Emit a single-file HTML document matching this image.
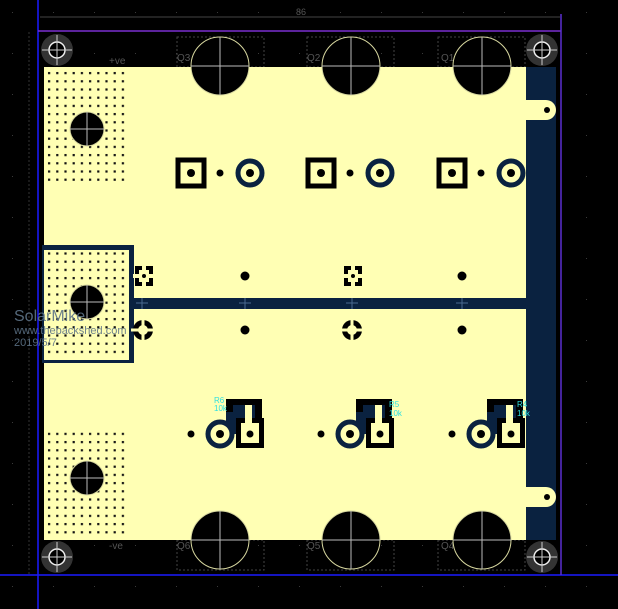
<!DOCTYPE html>
<html><head><meta charset="utf-8"><style>
html,body{margin:0;padding:0;background:#000;}
svg{display:block}
</style></head><body>
<svg width="618" height="609" viewBox="0 0 618 609" xmlns="http://www.w3.org/2000/svg" font-family="Liberation Sans, sans-serif">
<defs>
<pattern id="grid" x="0" y="0" width="41" height="41" patternUnits="userSpaceOnUse">
<rect x="12" y="12" width="1" height="1" fill="#3a3a3a"/>
</pattern>
<pattern id="dots" x="47" y="71" width="8.2" height="8.2" patternUnits="userSpaceOnUse">
<rect x="1" y="1" width="2.2" height="2.2" fill="#111"/>
</pattern>
</defs>
<rect width="618" height="609" fill="#000"/>
<rect width="618" height="609" fill="url(#grid)"/>
<line x1="40" y1="17" x2="560" y2="17" stroke="#444" stroke-width="1"/>
<text x="296" y="15" font-size="9" fill="#555">86</text>
<line x1="29" y1="32" x2="29" y2="575" stroke="#333" stroke-width="1" stroke-dasharray="2,2"/>
<line x1="38" y1="0" x2="38" y2="609" stroke="#1a1aff" stroke-width="1.5"/>
<line x1="0" y1="575" x2="618" y2="575" stroke="#1a1aff" stroke-width="1.5"/>
<line x1="38" y1="31" x2="561" y2="31" stroke="#7a2fd0" stroke-width="1.5"/>
<line x1="561" y1="14" x2="561" y2="575" stroke="#5a2fd0" stroke-width="1.5"/>
<g fill="none" stroke="#444" stroke-width="1" stroke-dasharray="2,2">
<rect x="177" y="37" width="87" height="30"/><rect x="307" y="37" width="87" height="30"/><rect x="438" y="37" width="87" height="30"/>
<rect x="177" y="540" width="87" height="30"/><rect x="307" y="540" width="87" height="30"/><rect x="438" y="540" width="87" height="30"/>
</g>
<g font-size="10" fill="#555">
<text x="109" y="64">+ve</text><text x="109" y="549">-ve</text>
<text x="177" y="61">Q3</text><text x="307" y="61">Q2</text><text x="441" y="61">Q1</text>
<text x="177" y="549">Q6</text><text x="307" y="549">Q5</text><text x="441" y="549">Q4</text>
</g>
<rect x="524" y="67" width="32" height="473" fill="#0a2240"/>
<rect x="44" y="67" width="482" height="231" fill="#ffffb4"/>
<rect x="44" y="309" width="482" height="231" fill="#ffffb4"/>
<rect x="130" y="298" width="426" height="11" fill="#0a2240"/>
<rect x="42" y="245" width="92" height="118" fill="#0a2240"/>
<rect x="44" y="250" width="85" height="110" fill="#ffffb4"/>
<rect x="47" y="71" width="80" height="110" fill="url(#dots)"/>
<rect x="47" y="252" width="82" height="106" fill="url(#dots)"/>
<rect x="47" y="427" width="80" height="110" fill="url(#dots)"/>
<path d="M524 100 H546 A10 10 0 0 1 546 120 H524 Z" fill="#ffffb4"/>
<circle cx="547" cy="110" r="3" fill="#000"/>
<path d="M524 487 H546 A10 10 0 0 1 546 507 H524 Z" fill="#ffffb4"/>
<circle cx="547" cy="497" r="3" fill="#000"/>
<g fill="#000" stroke="#d8d8a0" stroke-width="1">
<circle cx="220" cy="66" r="29"/><circle cx="351" cy="66" r="29"/><circle cx="482" cy="66" r="29"/>
<circle cx="220" cy="540" r="29"/><circle cx="351" cy="540" r="29"/><circle cx="482" cy="540" r="29"/>
<circle cx="87" cy="129" r="17"/><circle cx="87" cy="302" r="17"/><circle cx="87" cy="478" r="17"/>
</g>
<g stroke="#bbb" stroke-width="1">
<path d="M220 37V95M191 66H249M351 37V95M322 66H380M482 37V95M453 66H511"/>
<path d="M220 511V569M191 540H249M351 511V569M322 540H380M482 511V569M453 540H511"/>
<path d="M87 112V146M70 129H104M87 285V319M70 302H104M87 461V495M70 478H104"/>
</g>
<g>
<circle cx="57" cy="50" r="16" fill="#333"/><circle cx="542" cy="50" r="16" fill="#333"/>
<circle cx="57" cy="557" r="16" fill="#333"/><circle cx="542" cy="557" r="16" fill="#333"/>
<g fill="#000" stroke="#eee" stroke-width="1.5">
<circle cx="57" cy="50" r="8"/><circle cx="542" cy="50" r="8"/><circle cx="57" cy="557" r="8"/><circle cx="542" cy="557" r="8"/>
</g>
<path d="M42 50H72M57 35V65M527 50H557M542 35V65M42 557H72M57 542V572M527 557H557M542 542V572" stroke="#ccc" stroke-width="1"/>
</g>
<g id="top">
<rect x="178" y="160" width="26" height="26" fill="none" stroke="#000" stroke-width="5"/>
<circle cx="191" cy="173" r="4" fill="#000"/>
<circle cx="220" cy="173" r="3.5" fill="#000"/>
<circle cx="250" cy="173" r="12" fill="#ffffb4" stroke="#0a2240" stroke-width="5"/>
<circle cx="250" cy="173" r="4" fill="#000"/>
</g>
<use href="#top" x="130"/><use href="#top" x="261"/>
<g fill="#000">
<circle cx="245" cy="276" r="4.5"/><circle cx="462" cy="276" r="4.5"/>
<circle cx="245" cy="330" r="4.5"/><circle cx="462" cy="330" r="4.5"/>
</g>
<g id="sq">
<rect x="135" y="266" width="18" height="20" fill="#000"/>
<rect x="139" y="270" width="10" height="12" fill="#ffffb4"/>
<rect x="142" y="264" width="4" height="24" fill="#ffffb4"/>
<rect x="133" y="274" width="22" height="4" fill="#ffffb4"/>
<circle cx="144" cy="276" r="2" fill="#000"/>
</g>
<use href="#sq" x="209"/>
<g id="rd">
<circle cx="143" cy="330" r="10" fill="#000"/>
<circle cx="143" cy="330" r="5" fill="#ffffb4"/>
<circle cx="143" cy="330" r="2" fill="#000"/>
<path d="M131 330H155M143 318V342" stroke="#ffffb4" stroke-width="3"/>
</g>
<use href="#rd" x="209"/>
<g stroke="#4a6a90" stroke-width="1">
<path d="M136 303H148M142 298V309M239 303H251M245 298V309M346 303H358M352 298V309M456 303H468M462 298V309"/>
</g>
<g id="bot">
<circle cx="191" cy="434" r="3.5" fill="#000"/>
<path d="M226 400 H262 V420 H236 V434 H226 Z" fill="#0a2240"/>
<rect x="226" y="399" width="36" height="6" fill="#000"/>
<rect x="226" y="399" width="7" height="13" fill="#000"/>
<rect x="255" y="399" width="7" height="20" fill="#000"/>
<rect x="236" y="418" width="28" height="30" fill="#000"/>
<rect x="241" y="423" width="18" height="20" fill="#ffffb4"/>
<rect x="245" y="405" width="7" height="18" fill="#ffffb4"/>
<circle cx="220" cy="434" r="12" fill="#ffffb4" stroke="#0a2240" stroke-width="5"/>
<circle cx="220" cy="434" r="4" fill="#000"/>
<circle cx="250" cy="434" r="3.5" fill="#000"/>
</g>
<use href="#bot" x="130"/><use href="#bot" x="261"/>
<g font-size="8" fill="#30e0e0">
<text x="214" y="403">R6</text><text x="214" y="411">10k</text>
<text x="389" y="407">R5</text><text x="389" y="416">10k</text>
<text x="517" y="407">R4</text><text x="517" y="416">10k</text>
</g>
<g fill="#5e7488" opacity="0.9">
<text x="14" y="321" font-size="16">SolarMike</text>
<text x="14" y="334" font-size="11">www.thebackshed.com</text>
<text x="14" y="346" font-size="11">2019/5/7</text>
</g>
</svg>
</body></html>
